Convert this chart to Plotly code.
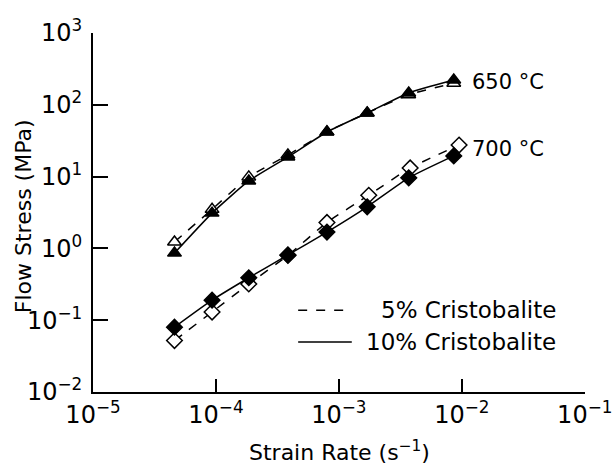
import plotly.graph_objects as go

# strain rates (s^-1)
rate = [4.6e-5, 9.3e-5, 1.85e-4, 3.85e-4, 8.0e-4, 1.7e-3, 3.7e-3, 8.6e-3]
rate_700_open = [4.6e-5, 9.3e-5, 1.85e-4, 3.85e-4, 8.0e-4, 1.75e-3, 3.8e-3, 9.5e-3]

# 650 C
s650_5 = [1.23, 3.5, 9.9, 20.0, 42.0, 77.0, 138.0, 200.0]
s650_10 = [0.86, 3.1, 8.7, 18.7, 41.8, 77.0, 146.0, 221.0]
# 700 C
s700_5 = [0.052, 0.13, 0.32, 0.80, 2.3, 5.5, 13.2, 27.5]
s700_10 = [0.080, 0.19, 0.39, 0.81, 1.69, 3.8, 9.6, 19.4]

xticks = [1e-5, 1e-4, 1e-3, 1e-2, 1e-1]
xticktext = ["10<sup>−5</sup>", "10<sup>−4</sup>", "10<sup>−3</sup>", "10<sup>−2</sup>", "10<sup>−1</sup>"]
yticks = [1e-2, 1e-1, 1, 10, 100, 1000]
yticktext = ["10<sup>−2</sup>", "10<sup>−1</sup>", "10<sup>0</sup>", "10<sup>1</sup>", "10<sup>2</sup>", "10<sup>3</sup>"]

legend_labels = ["5% Cristobalite", "10% Cristobalite"]
temp_labels = ["650 °C", "700 °C"]
x_title = "Strain Rate (s<sup>−1</sup>)"
y_title = "Flow Stress (MPa)"

FONT = "DejaVu Sans"
fig = go.Figure()

def add(x, y, dash, symbol, fill):
    fig.add_trace(go.Scatter(
        x=x, y=y, mode="lines+markers", showlegend=False,
        line=dict(color="black", width=1.5, dash=dash, shape="spline", smoothing=0.5),
        marker=dict(symbol=symbol, size=12, color=fill, line=dict(color="black", width=1.5)),
    ))

add(rate, s650_5, "dash", "triangle-up", "white")
add(rate, s650_10, "solid", "triangle-up", "black")
add(rate_700_open, s700_5, "dash", "diamond", "white")
add(rate, s700_10, "solid", "diamond", "black")

# temperature labels next to last points
fig.add_annotation(x=-2.0, y=2.32, xref="x", yref="y", text=temp_labels[0], showarrow=False,
                   xanchor="left", xshift=8, font=dict(size=21, family=FONT, color="black"))
fig.add_annotation(x=-2.0, y=1.39, xref="x", yref="y", text=temp_labels[1], showarrow=False,
                   xanchor="left", xshift=8, font=dict(size=21, family=FONT, color="black"))

# manual legend
leg_y = [0.228, 0.139]
leg_dash = ["dash", "solid"]
for yy, dd, lab in zip(leg_y, leg_dash, legend_labels):
    fig.add_shape(type="line", xref="paper", yref="paper", x0=0.417, x1=0.526, y0=yy, y1=yy,
                  line=dict(color="black", width=1.5, dash=dd))
    fig.add_annotation(x=0.945, y=yy, xref="paper", yref="paper", text=lab, showarrow=False,
                       xanchor="right", yanchor="middle",
                       font=dict(size=23, family=FONT, color="black"))

# axis titles
fig.add_annotation(x=0.5, y=-0.163, xref="paper", yref="paper", text=x_title, showarrow=False,
                   xanchor="center", yanchor="middle", font=dict(size=22, family=FONT, color="black"))
fig.add_annotation(x=-0.142, y=0.49, xref="paper", yref="paper", text=y_title, showarrow=False,
                   textangle=-90, xanchor="center", yanchor="middle",
                   font=dict(size=22, family=FONT, color="black"))

axis_common = dict(type="log", showgrid=False, zeroline=False, showline=True,
                   linecolor="black", linewidth=2, ticks="inside", tickcolor="black",
                   tickwidth=1.5, mirror=False, automargin=False, ticklabeloverflow="allow",
                   tickfont=dict(size=24, family=FONT, color="black"))
fig.update_xaxes(range=[-5, -0.998], tickvals=xticks, ticktext=xticktext, ticklen=13,
                 **axis_common)
fig.update_yaxes(range=[-2, 3], tickvals=yticks, ticktext=yticktext, ticklen=15,
                 ticklabelstandoff=4, **axis_common)

fig.update_layout(
    width=612, height=468, plot_bgcolor="white", paper_bgcolor="white",
    margin=dict(l=93, r=27, t=33, b=76),
    font=dict(family=FONT, color="black"),
    showlegend=False,
)

fig.write_html("out.html")
